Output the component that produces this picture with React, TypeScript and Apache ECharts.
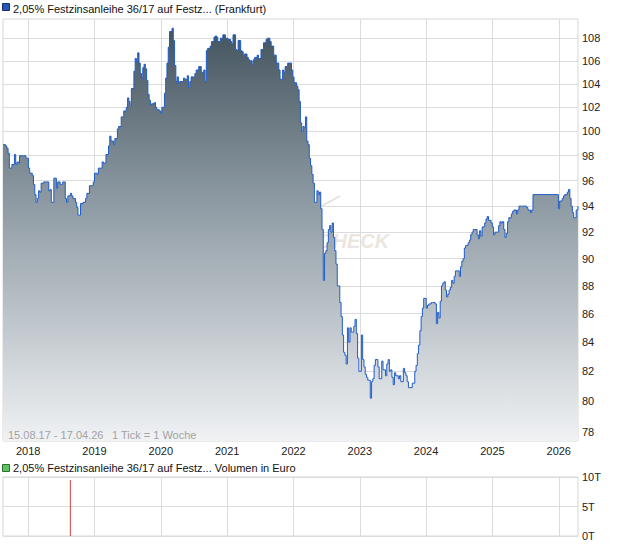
import React, { useEffect, useRef } from "react";
import * as echarts from "echarts";

// Time frame: 15.08.17 - 17.04.26, weekly ticks
const START = Date.UTC(2017, 7, 15);
const END = Date.UTC(2026, 3, 17);
const WEEK = 7 * 86400000;

// Week offset from START and price
const weeks = [
  0, 2, 3, 4, 5, 7, 9, 10, 11, 12, 13, 16, 18, 20, 21, 23, 24, 25, 26, 27, 28, 29, 30, 32, 34, 36, 37, 38, 40, 41, 42, 43, 45, 46, 47, 49, 50, 51, 53, 54, 55, 57, 58, 59, 61, 63, 65, 66, 68, 71, 72, 74, 75, 78, 79, 81, 83, 84, 85, 87, 88, 90, 91, 93, 95, 97, 98, 99,
  100, 101, 103, 104, 105, 106, 107, 108, 109, 110, 111, 112, 113, 114, 115, 116, 117, 119, 120, 121, 123, 124, 125, 127, 128, 129, 130, 131, 133, 134, 135, 136, 137, 138, 139, 141, 142, 143, 145, 146, 147, 148, 150, 151, 152, 154, 155, 156, 158, 159, 160, 161, 163, 164, 166, 167, 168, 169, 171, 172, 173, 175, 176, 177, 179, 180, 181, 183, 184, 185, 187, 188, 189, 190, 192, 193, 194, 196, 197, 198,
  200, 201, 203, 205, 207, 208, 210, 211, 213, 215, 217, 218, 220, 221, 222, 224, 225, 227, 228, 229, 231, 232, 233, 234, 235, 236, 237, 238, 239, 240, 241, 242, 243, 244, 245, 247, 248, 249, 250, 251, 252, 253, 254, 255, 256, 257, 258, 259, 260, 261, 262, 263, 265, 266, 267, 268, 269, 270, 271, 272, 273, 274, 276, 277, 278, 279, 280, 282, 283, 284, 285, 286, 287, 289, 290, 291, 292, 293, 295, 296, 298, 299,
  301, 302, 303, 304, 305, 306, 307, 308, 309, 311, 312, 313, 315, 316, 317, 318, 319, 321, 322, 324, 325, 326, 327, 328, 329, 330, 331, 333, 334, 335, 337, 338, 340, 341, 342, 343, 344, 345, 346, 347, 348, 349, 350, 351, 352, 353, 354, 355, 356, 358, 359, 360, 361, 362, 363, 364, 366, 367, 368, 369, 370, 371, 373, 374, 375, 376, 377, 379, 380, 381, 382, 384, 385, 386, 387, 388, 390, 391, 392, 393, 394, 395, 396, 397, 398,
  400, 401, 402, 404, 405, 406, 408, 409, 411, 412, 413, 415, 416, 417, 436, 437, 438, 440, 441, 442, 444, 445, 446, 447, 448, 449, 451, 452.4,
];
const prices = [
  98.9, 98.8, 98.6, 98.2, 97.0, 97.3, 98.1, 97.3, 97.5, 97.4, 98.0, 98.0, 97.8, 97.0, 96.6, 96.4, 95.7, 94.9, 94.3, 94.6, 95.2, 95.1, 95.8, 95.9, 95.9, 95.2, 95.3, 94.3, 96.2, 96.2, 95.4, 95.9, 95.7, 95.7, 95.9, 94.6, 94.3, 94.8, 95.0, 94.8, 94.6, 94.3, 93.9, 93.3, 94.2, 94.3, 94.6, 95.0, 95.6, 95.9, 96.6, 96.5, 97.0, 97.5, 97.4, 98.1, 98.8, 99.6, 99.2, 98.9, 99.4, 100.2, 100.4, 101.2, 101.7, 102.0, 102.8, 102.5,
  102.1, 103.6, 105.1, 106.2, 105.9, 106.7, 105.8, 104.9, 104.5, 105.4, 105.7, 105.3, 104.3, 103.1, 102.6, 102.2, 102.3, 102.4, 102.0, 101.8, 101.7, 101.5, 102.0, 103.2, 104.5, 105.8, 107.2, 108.6, 108.9, 107.8, 105.6, 104.2, 104.6, 104.0, 104.2, 104.2, 104.5, 104.4, 104.7, 103.7, 104.2, 104.6, 104.6, 104.9, 105.2, 105.5, 105.5, 105.0, 105.2, 104.2, 106.9, 107.1, 107.3, 107.7, 108.1, 108.2, 108.1, 107.7, 108.0, 108.0, 108.3, 108.0, 108.0, 107.9, 107.7, 107.5, 108.3, 107.0, 106.9, 107.8, 106.9, 106.8, 106.5, 106.6, 106.3, 106.1, 106.0, 105.7, 106.1, 106.3,
  106.5, 106.2, 107.0, 107.6, 107.9, 108.0, 107.7, 107.3, 106.5, 105.8, 105.2, 104.4, 105.2, 105.0, 105.5, 105.8, 105.8, 105.2, 104.6, 104.1, 103.8, 103.5, 102.5, 100.7, 100.0, 100.4, 100.3, 101.2, 99.2, 98.9, 97.8, 97.2, 96.5, 95.8, 94.3, 95.2, 94.9, 95.1, 93.8, 92.2, 88.4, 90.4, 90.6, 91.2, 92.2, 92.5, 92.0, 92.7, 91.6, 90.6, 89.6, 88.0, 86.8, 85.8, 84.5, 83.3, 83.1, 82.5, 85.0, 84.0, 85.0, 84.7, 85.1, 85.6, 84.6, 82.9, 82.0, 84.5, 82.8, 82.3, 81.8, 81.6, 81.4, 80.2, 81.3, 81.5, 82.4, 82.8, 82.3, 81.5, 82.7, 82.1,
  81.7, 82.5, 82.8, 82.0, 82.1, 81.6, 81.1, 81.9, 81.7, 81.5, 81.7, 81.3, 82.2, 81.9, 81.7, 81.3, 80.9, 80.9, 81.2, 82.0, 82.4, 83.2, 83.8, 84.8, 85.8, 86.4, 87.1, 86.4, 86.6, 86.7, 86.8, 86.8, 86.7, 85.3, 86.1, 85.7, 86.9, 88.0, 88.2, 88.3, 87.7, 87.2, 87.4, 87.7, 87.9, 88.4, 88.2, 88.7, 89.1, 89.1, 88.7, 89.4, 89.8, 90.0, 90.8, 91.0, 91.2, 91.4, 91.8, 92.0, 92.2, 92.2, 91.8, 91.5, 92.1, 91.7, 92.4, 92.7, 93.0, 93.2, 92.9, 92.7, 92.4, 91.8, 92.0, 92.0, 92.5, 92.8, 92.7, 92.8, 92.2, 91.6, 91.9, 92.8, 93.1,
  93.4, 93.6, 93.7, 93.4, 93.7, 94.0, 94.0, 94.0, 94.0, 93.9, 93.7, 93.5, 93.7, 94.9, 94.9, 93.8, 94.4, 94.6, 94.8, 94.9, 95.1, 95.3, 94.6, 94.0, 93.5, 93.1, 93.7, 94.0,
];

// Volume (in thousand euro)
const volWeeks = [53];
const volValues = [9.5];

const priceTicks = [78, 80, 82, 84, 86, 88, 90, 92, 94, 96, 98, 100, 102, 104, 106, 108];
const years = [2018, 2019, 2020, 2021, 2022, 2023, 2024, 2025, 2026];

const FONT = '"Liberation Sans", Arial, Helvetica, sans-serif';

export default function App() {
  const ref = useRef<HTMLDivElement>(null);

  useEffect(() => {
    if (!ref.current) return;
    const chart = echarts.init(ref.current, undefined, { renderer: "svg" });
    const yearTs = years.map((y) => Date.UTC(y, 0, 1));
    const priceData = weeks.map((w, i) => [START + w * WEEK, prices[i]]);
    const volData = volWeeks.map((w, i) => [START + w * WEEK, volValues[i]]);
    const gridLine = { show: true, lineStyle: { color: "#dcdcdc", width: 1 } };

    chart.setOption({
      animation: false,
      textStyle: { fontFamily: FONT },
      grid: [
        { left: 3, top: 19, width: 575, height: 422, show: true, borderColor: "#d6d6d6", borderWidth: 1, backgroundColor: "#ffffff" },
        { left: 3, top: 477, width: 575, height: 59, show: true, borderColor: "#d6d6d6", borderWidth: 1, backgroundColor: "#ffffff" },
      ],
      xAxis: [
        {
          type: "value", gridIndex: 0, min: START, max: END,
          axisLine: { show: false },
          axisTick: { show: false, customValues: yearTs },
          axisLabel: {
            customValues: yearTs, color: "#222", fontSize: 11, margin: 4, fontFamily: FONT,
            formatter: (v: number) => String(new Date(v).getUTCFullYear()),
          },
          splitLine: gridLine,
        },
        {
          type: "value", gridIndex: 1, min: START, max: END,
          axisLine: { show: false },
          axisTick: { show: false, customValues: yearTs },
          axisLabel: { show: false, customValues: yearTs },
          splitLine: gridLine,
        },
      ],
      yAxis: [
        {
          type: "log", gridIndex: 0, position: "right", min: 77.41, max: 109.73,
          axisLine: { show: false },
          axisTick: { show: false, customValues: priceTicks },
          axisLabel: {
            customValues: priceTicks, color: "#222", fontSize: 11, margin: 4, fontFamily: FONT,
            formatter: (v: number) => String(Math.round(v)),
          },
          splitLine: gridLine,
        },
        {
          type: "value", gridIndex: 1, position: "right", min: 0, max: 10, interval: 5,
          axisLine: { show: false },
          axisTick: { show: false },
          axisLabel: { color: "#222", fontSize: 11, margin: 4, fontFamily: FONT, formatter: "{value}T" },
          splitLine: gridLine,
        },
      ],
      series: [
        {
          type: "line", xAxisIndex: 0, yAxisIndex: 0, data: priceData, showSymbol: false, z: 3,
          step: "end",
          lineStyle: { color: "#1f5cc8", width: 1 },
          areaStyle: {
            origin: "start",
            opacity: 1,
            color: new echarts.graphic.LinearGradient(0, 0, 0, 1, [
              { offset: 0, color: "#44545e" },
              { offset: 0.4, color: "#8a97a0" },
              { offset: 1, color: "#f0f2f4" },
            ]),
          },
        },
        {
          type: "bar", xAxisIndex: 1, yAxisIndex: 1, data: volData, barWidth: 1,
          itemStyle: { color: "#d04040" },
        },
      ],
      graphic: [
        { type: "rect", z: 10, shape: { x: 2.5, y: 3.5, width: 7, height: 7 }, style: { fill: "#2456b8", stroke: "#19306a", lineWidth: 1 } },
        { type: "text", z: 10, x: 13, y: 9, style: { text: "2,05% Festzinsanleihe 36/17 auf Festz... (Frankfurt)", font: `11px ${FONT}`, fill: "#111", verticalAlign: "middle" } },
        { type: "text", z: 10, x: 8, y: 435, style: { text: "15.08.17 - 17.04.26", font: `11px ${FONT}`, fill: "#a2a2a2", verticalAlign: "middle" } },
        { type: "text", z: 10, x: 112, y: 435, style: { text: "1 Tick = 1 Woche", font: `11px ${FONT}`, fill: "#a2a2a2", verticalAlign: "middle" } },
        { type: "rect", z: 10, shape: { x: 2.5, y: 464.5, width: 7, height: 7 }, style: { fill: "#5fc25f", stroke: "#2f6f2f", lineWidth: 1 } },
        { type: "text", z: 10, x: 13, y: 468, style: { text: "2,05% Festzinsanleihe 36/17 auf Festz... Volumen in Euro", font: `11px ${FONT}`, fill: "#111", verticalAlign: "middle" } },
        { type: "text", z: 1, x: 318, y: 241, style: { text: "CHECK", font: `italic bold 20px ${FONT}`, fill: "#ebe6df", verticalAlign: "middle" } },
        { type: "line", z: 1, shape: { x1: 320, y1: 207, x2: 340, y2: 196 }, style: { stroke: "#e6e0d8", lineWidth: 1.5 } },
      ],
    });

    return () => chart.dispose();
  }, []);

  return <div ref={ref} style={{ position: "absolute", left: 0, top: 0, width: 620, height: 546 }} />;
}
